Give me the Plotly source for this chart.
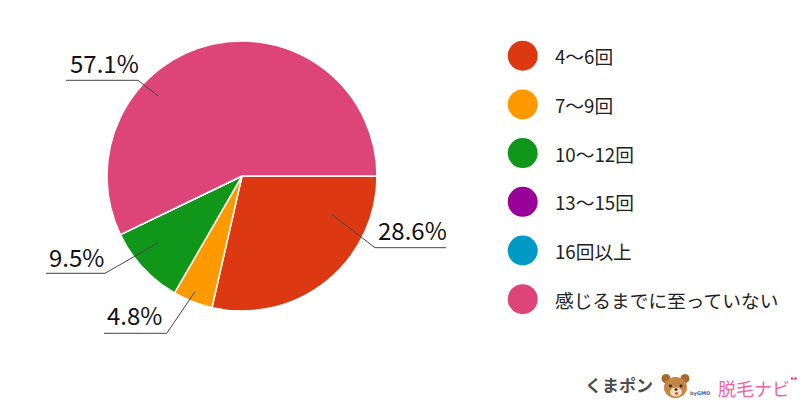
import plotly.graph_objects as go

# ---- data ----
categories = ["4〜6回", "7〜9回", "10〜12回", "13〜15回", "16回以上", "感じるまでに至っていない"]
counts = [6, 1, 2, 0, 0, 12]
colors = ["#dc3912", "#ff9900", "#109618", "#990099", "#0099c6", "#dd4477"]

W, H = 800, 400
FONT = "Noto Sans CJK JP, Noto Sans, sans-serif"

def px(x):
    return x / W

def py(y):
    return 1 - y / H

fig = go.Figure()

# pie: centre (242,176), radius 135
fig.add_trace(go.Pie(
    labels=categories, values=counts, sort=False, direction="clockwise",
    rotation=90, marker=dict(colors=colors, line=dict(color="white", width=1.5)),
    textinfo="none", hoverinfo="label+percent", showlegend=False,
    domain=dict(x=[px(107), px(377)], y=[py(311), py(41)]),
))

# legend circles (index units on a hidden axis)
fig.add_trace(go.Scatter(
    x=[0] * len(categories), y=list(range(len(categories))), mode="markers",
    marker=dict(size=30, color=colors, line=dict(width=0)),
    hoverinfo="skip", showlegend=False, xaxis="x", yaxis="y",
))

total = sum(counts)
pct_text = {i: f"{counts[i] / total * 100:.1f}%" for i in range(len(counts)) if counts[i] > 0}

# leader-line layout per slice: (points, text x, text cap-centre y, anchor)
label_layout = {
    0: ([(331.7, 214.3), (375, 247.7), (446, 247.7)], 376, 229.5, "left"),
    1: ([(195, 291.7), (166.7, 333.3), (104, 333.3)], 164, 314, "right"),
    2: ([(158.3, 242.7), (105, 273.3), (46, 273.3)], 106, 256.5, "right"),
    5: ([(158.3, 96), (138, 80.3), (66, 80.3)], 141, 62, "right"),
}

shapes = []
annotations = []
for i, (pts, tx, ty, anc) in label_layout.items():
    path = "M " + " L ".join(f"{px(x)},{py(y)}" for x, y in pts)
    shapes.append(dict(type="path", path=path, xref="paper", yref="paper",
                       line=dict(color="#444444", width=1)))
    annotations.append(dict(text=pct_text[i], x=px(tx), y=py(ty), xref="paper", yref="paper",
                            xanchor=anc, yanchor="middle", showarrow=False,
                            font=dict(family=FONT, size=24, color="#111111")))

# legend labels
for i, c in enumerate(categories):
    annotations.append(dict(text=c, x=30.5, y=i, xref="x", yref="y", xanchor="left",
                            yanchor="middle", showarrow=False,
                            font=dict(family=FONT, size=18.7, color="#222222")))

# logos (as text + simple shapes)
annotations.append(dict(text="<b>くまポン</b>", x=px(583), y=py(384), xref="paper", yref="paper",
                        xanchor="left", yanchor="middle", showarrow=False,
                        font=dict(family=FONT, size=17, color="#4d4d4d")))
annotations.append(dict(text="<b>by</b><b style='color:#1f5fbf'>GMO</b>", x=px(688), y=py(393),
                        xref="paper", yref="paper", xanchor="left", yanchor="middle",
                        showarrow=False, font=dict(family="DejaVu Sans", size=5, color="#666666")))
annotations.append(dict(text="脱毛ナビ", x=px(716), y=py(387.5), xref="paper", yref="paper",
                        xanchor="left", yanchor="middle", showarrow=False,
                        font=dict(family=FONT, size=18, color="#f0649f")))

def circ(cx, cy, rx, ry, color):
    return dict(type="circle", xref="paper", yref="paper",
                x0=px(cx - rx), x1=px(cx + rx), y0=py(cy + ry), y1=py(cy - ry),
                fillcolor=color, line=dict(width=0), layer="above")

bear = [
    circ(666, 378.5, 4.5, 4.5, "#a86a2e"),
    circ(685, 378.5, 4.5, 4.5, "#a86a2e"),
    circ(675.5, 387.5, 11.5, 10.5, "#c58543"),
    circ(676, 392, 6, 4.5, "#f5deb8"),
    circ(670.5, 386, 1.4, 1.4, "#222222"),
    circ(681, 386, 1.4, 1.4, "#222222"),
    circ(676, 389.5, 1.6, 1.2, "#222222"),
    circ(676.5, 393.5, 1.4, 1.4, "#e0405a"),
]
shapes.extend(bear)
# small red dots on ビ
shapes.append(circ(792, 378.5, 1.3, 1.3, "#e8384f"))
shapes.append(circ(795.5, 378.5, 1.3, 1.3, "#e8384f"))

row0, step = 55.7, 48.7
fig.update_layout(
    width=W, height=H, margin=dict(l=0, r=0, t=0, b=0),
    paper_bgcolor="white", plot_bgcolor="white",
    xaxis=dict(domain=[0, 1], range=[-522.7, W - 522.7], visible=False, fixedrange=True),
    yaxis=dict(domain=[0, 1], range=[(H - row0) / step, -row0 / step], visible=False, fixedrange=True),
    shapes=shapes, annotations=annotations, showlegend=False,
)

fig.write_html("out.html", config={"displayModeBar": False},
               post_script="document.body.style.margin='0';document.body.style.overflow='hidden';")
